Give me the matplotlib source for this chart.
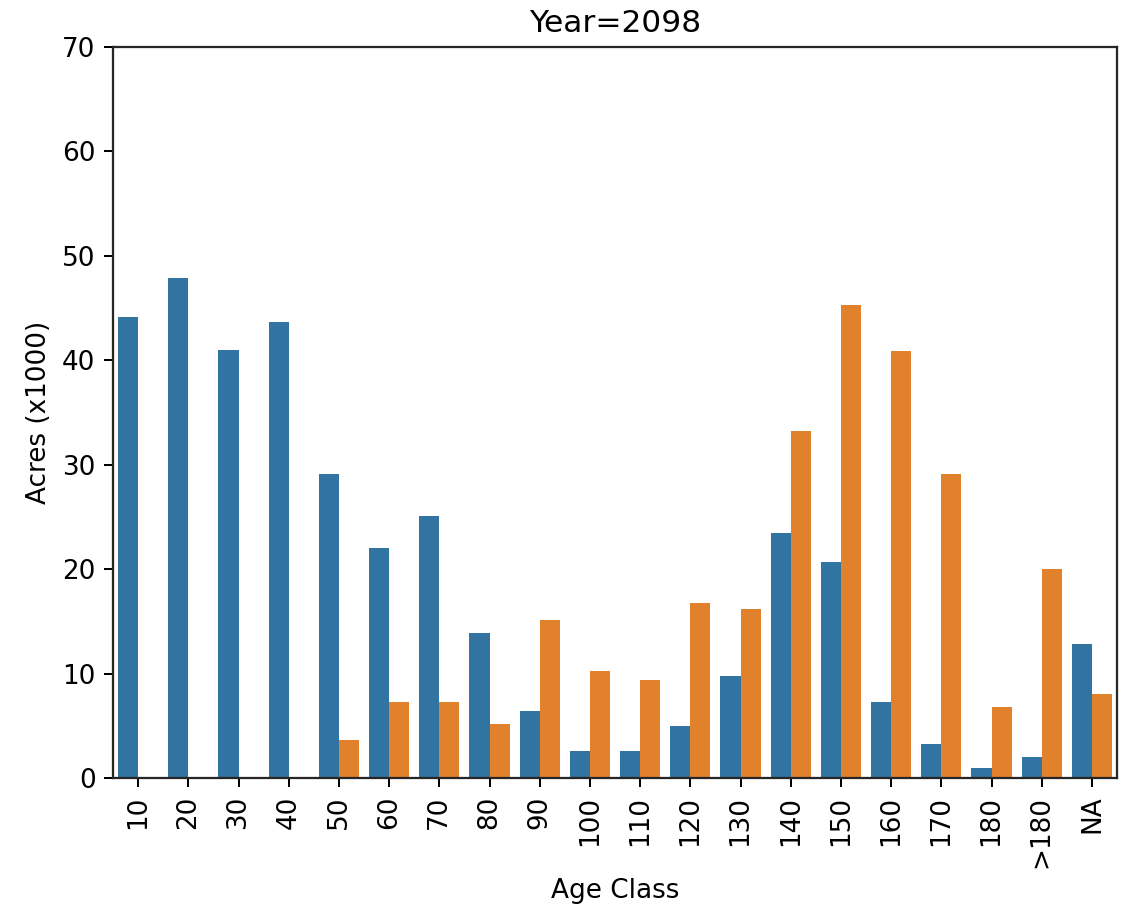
import matplotlib
matplotlib.use('Agg')
import matplotlib.pyplot as plt
import numpy as np

# Datos (acres x1000)
clases = ['10', '20', '30', '40', '50', '60', '70', '80', '90', '100',
          '110', '120', '130', '140', '150', '160', '170', '180', '>180', 'NA']
serie_azul = [44.1, 47.9, 41.0, 43.7, 29.1, 22.0, 25.1, 13.9, 6.4, 2.6,
              2.6, 5.0, 9.8, 23.5, 20.7, 7.3, 3.3, 1.0, 2.0, 12.8]
serie_naranja = [0, 0, 0, 0, 3.6, 7.3, 7.3, 5.2, 15.1, 10.2,
                 9.4, 16.8, 16.2, 33.2, 45.3, 40.9, 29.1, 6.8, 20.0, 8.0]

azul = '#3274a1'
naranja = '#e1812c'

plt.rcParams['font.size'] = 10.5
plt.rcParams['axes.edgecolor'] = '#262626'
plt.rcParams['axes.linewidth'] = 0.9

dpi = 180
fig = plt.figure(figsize=(1129 / dpi, 909 / dpi), dpi=dpi)
ax = fig.add_axes([0.1001, 0.1441, 0.8893, 0.8042])

x = np.arange(len(clases))
ancho = 0.4
ax.bar(x - ancho / 2, serie_azul, width=ancho, color=azul, linewidth=0)
ax.bar(x + ancho / 2, serie_naranja, width=ancho, color=naranja, linewidth=0)

ax.set_xlim(-0.5, len(clases) - 0.5)
ax.set_ylim(0, 70)
ax.set_xticks(x)
ax.set_xticklabels(clases, rotation=90)
ax.set_yticks(range(0, 71, 10))
ax.set_xlabel('Age Class')
ax.set_ylabel('Acres (x1000)')
ax.set_title('Year=2098', fontsize=12.5)

fig.savefig('out.png', dpi=dpi)
